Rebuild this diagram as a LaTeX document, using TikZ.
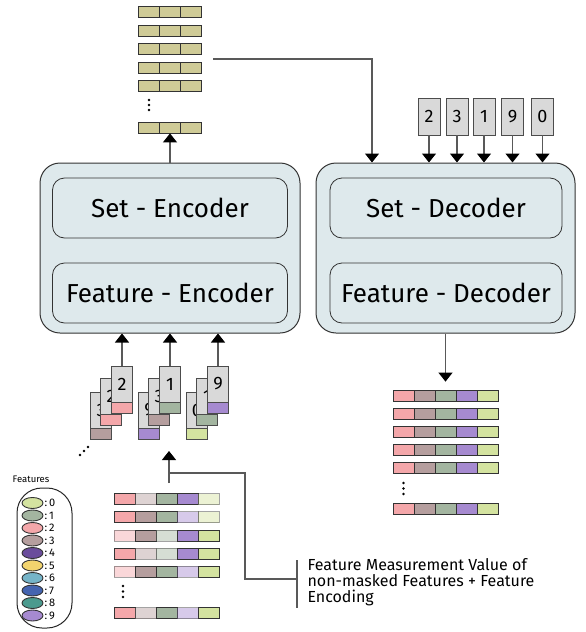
\documentclass[tikz,border=0pt]{standalone}
\usepackage{fontspec}
\setmainfont{Fira Sans}
\usetikzlibrary{arrows.meta,shapes.geometric}
\definecolor{fzero}{HTML}{D4E3A0}
\definecolor{fone}{HTML}{A3B5A0}
\definecolor{ftwo}{HTML}{F4A7AA}
\definecolor{fthree}{HTML}{B59E9E}
\definecolor{ffour}{HTML}{6A4C9C}
\definecolor{ffive}{HTML}{F2D46E}
\definecolor{fsix}{HTML}{75B4C8}
\definecolor{fseven}{HTML}{4464B0}
\definecolor{feight}{HTML}{4A9A8E}
\definecolor{fnine}{HTML}{A68AD0}
\definecolor{emb}{HTML}{CFCB97}
\definecolor{boxbg}{HTML}{DEE9EC}
\begin{document}
\begin{tikzpicture}[x=1pt,y=-1pt,
	line/.style={draw=black!65,line width=1.2pt},
	arr/.style={line,-{Triangle[width=14pt,length=9pt,color=black]}},
	cell/.style={draw=black!80,line width=0.8pt,minimum width=21pt,minimum height=11pt,inner sep=0pt},
	fade/.style={cell,opacity=0.45},
	outer/.style={draw=black!80,line width=1pt,fill=boxbg,rounded corners=20pt,minimum height=170pt},
	inner/.style={draw=black!80,line width=0.8pt,fill=boxbg,rounded corners=12pt,minimum height=60pt,font=\fontsize{26}{29}\selectfont},
	card/.style={draw=black!70,line width=0.8pt,fill=black!15,minimum width=21pt,minimum height=36pt,inner sep=0pt,font=\fontsize{18}{20}\selectfont},
	strip/.style={draw=black!70,line width=0.8pt,minimum width=21pt,minimum height=11pt,inner sep=0pt,anchor=north},
	digit/.style={draw=black!70,line width=0.8pt,fill=black!15,minimum width=22pt,minimum height=37pt,inner sep=0pt,font=\fontsize{18}{20}\selectfont},
	swatch/.style={ellipse,draw=black!80,line width=0.9pt,minimum width=21pt,minimum height=11pt,inner sep=0pt}]
	\useasboundingbox (0,0) rectangle (586,632);
	% encoder and decoder
	\node[outer,minimum width=260pt] (enc) at (170,248) {};
	\node[inner,minimum width=235pt] (setenc) at (170,208) {Set - Encoder};
	\node[inner,minimum width=235pt] (featenc) at (170,293) {Feature - Encoder};
	\node[outer,minimum width=259pt] (dec) at (445.5,248) {};
	\node[inner,minimum width=232pt] (setdec) at (446,208) {Set - Decoder};
	\node[inner,minimum width=232pt] (featdec) at (446,293) {Feature - Decoder};
	% set embedding on top
	\foreach \r/\y in {1/12,2/31,3/49,4/67.5,5/86,6/127.5}
		\foreach \c/\x in {1/149,2/170,3/191}
			\node[cell,fill=emb] (emb-\r-\c) at (\x,\y) {};
	\foreach \k in {0,1,2} \fill (149,{100+5*\k}) circle (1.3pt);
	\draw[arr] (enc.north) -- (emb-6-2.south);
	\coordinate (ctop) at (213,59);
	\draw[arr] (ctop) -| ([xshift=-73.5pt]dec.north);
	% masked features asked from the decoder
	\foreach \i/\x/\d in {1/429/2,2/457/3,3/484/1,4/512.5/9,5/542.5/0} {
		\node[digit] (dig-\i) at (\x,116.5) {\d};
		\draw[arr] (dig-\i) -- (dig-\i |- dec.north);
	}
	% reconstructed set
	\foreach \r/\y in {1/395.5,2/413.5,3/431.5,4/449.5,5/468,6/508.5} {
		\node[cell,fill=ftwo] (out-\r-1) at (403.5,\y) {};
		\node[cell,fill=fthree] (out-\r-2) at (424.5,\y) {};
		\node[cell,fill=fone] (out-\r-3) at (445.5,\y) {};
		\node[cell,fill=fnine] (out-\r-4) at (466.5,\y) {};
		\node[cell,fill=fzero] (out-\r-5) at (487.5,\y) {};
	}
	\foreach \k in {0,1,2} \fill (403.5,{483+5.5*\k}) circle (1.3pt);
	\draw[arr] (dec.south -| out-1-3) -- ([yshift=8pt]out-1-3.north);
	% feature tokens into the encoder
	\foreach \s/\x/\da/\ca/\db/\cb/\dc/\cc in {1/122/2/ftwo/2/ftwo/3/fthree,2/170/1/fone/3/fthree/9/fnine,3/218/9/fnine/1/fone/0/fzero} {
		\node[card] (card-\s-c) at ({\x-21},410) {\dc};
		\node[strip,fill=\cc] (strip-\s-c) at (card-\s-c.south) {};
		\node[card] (card-\s-b) at ({\x-11},396) {\db};
		\node[strip,fill=\cb] (strip-\s-b) at (card-\s-b.south) {};
		\node[card] (card-\s-a) at (\x,384) {\da};
		\node[strip,fill=\ca] (strip-\s-a) at (card-\s-a.south) {};
		\draw[arr] (card-\s-a.north) -- (card-\s-a.north |- enc.south);
	}
	\foreach \p in {(80,455),(84,451),(88,447)} \fill \p circle (1.3pt);
	% input set with masked entries
	\foreach \r/\y/\sa/\sb/\sc/\sd/\se in {1/499/cell/fade/cell/cell/fade,2/517/cell/cell/cell/fade/fade,3/535.5/fade/cell/fade/cell/cell,4/553.5/cell/fade/fade/cell/cell,5/571.5/fade/cell/cell/fade/cell,6/613/cell/fade/cell/fade/cell} {
		\node[\sa,fill=ftwo] (in-\r-1) at (124.5,\y) {};
		\node[\sb,fill=fthree] (in-\r-2) at (145.5,\y) {};
		\node[\sc,fill=fone] (in-\r-3) at (166.5,\y) {};
		\node[\sd,fill=fnine] (in-\r-4) at (187.5,\y) {};
		\node[\se,fill=fzero] (in-\r-5) at (208.5,\y) {};
	}
	\foreach \k in {0,1,2} \fill (123,{586+5.5*\k}) circle (1.3pt);
	\coordinate (tail) at (169,483);
	\coordinate (tip) at (169,451);
	\coordinate (knee) at (169,473);
	\coordinate (brk) at (297,579);
	\draw[arr] (tail) -- (tip);
	\draw[line] (knee) -| (245,579) -- (brk);
	\draw[line] (brk) ++(0,-19) -- ++(0,48);
	\node[anchor=west,align=left,font=\fontsize{16}{16}\selectfont] (note) at (304,582) {Feature Measurement Value of\\non-masked Features + Feature\\Encoding};
	% legend
	\node[font=\fontsize{9.5}{10}\selectfont] (legtitle) at (31,479) {Features};
	\draw[black!85,line width=1pt,rounded corners=25pt] (17,488) rectangle (72,628);
	\foreach \k/\c in {0/fzero,1/fone,2/ftwo,3/fthree,4/ffour,5/ffive,6/fsix,7/fseven,8/feight,9/fnine} {
		\node[swatch,fill=\c] (sw-\k) at (32.5,{503+12.5*\k}) {};
		\node[anchor=west,inner sep=1pt,font=\fontsize{11}{12}\selectfont] (lab-\k) at (sw-\k.east) {:\,\k};
	}
\end{tikzpicture}
\end{document}
